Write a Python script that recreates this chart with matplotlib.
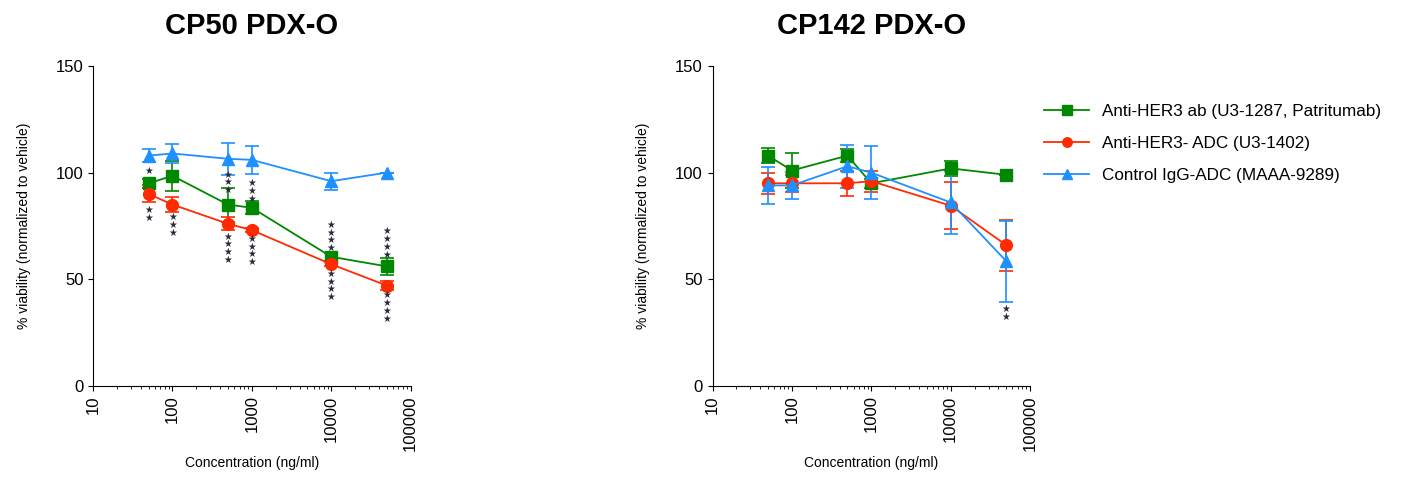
import matplotlib
matplotlib.use('Agg')
import matplotlib.pyplot as plt

plt.rcParams['font.family'] = ['Liberation Sans', 'DejaVu Sans']

conc = [50, 100, 500, 1000, 10000, 50000]

labels = ['Anti-HER3 ab (U3-1287, Patritumab)',
          'Anti-HER3- ADC (U3-1402)',
          'Control IgG-ADC (MAAA-9289)']
colors = ['#008800', '#FF2A00', '#1E90FF']
markers = ['s', 'o', '^']

# CP50 PDX-O
cp50_ab = [95, 98.5, 85, 83.5, 60.5, 56]
cp50_ab_err = [2, 7, 8, 3, 2, 4]
cp50_adc = [90, 85, 76, 73, 57, 47]
cp50_adc_err = [4, 3.5, 3, 1, 1, 2]
cp50_igg = [108, 109, 106.5, 106, 96, 100]
cp50_igg_err = [3, 4.5, 7.5, 6.5, 4, 0]

# CP142 PDX-O
cp142_ab = [108, 101, 108, 95, 102, 99]
cp142_ab_err = [3.5, 8, 3, 2, 3.5, 0]
cp142_adc = [95, 95, 95, 96, 84.5, 66]
cp142_adc_err = [5, 4, 6, 5, 11, 12]
cp142_igg = [94, 94, 103, 100, 86, 58.5]
cp142_igg_err = [8.5, 6.5, 10, 12.5, 15, 19]

# significance marks: (concentration, y position, number of stars)
cp50_stars = [(50, 101, 1), (50, 80.5, 2), (100, 75.5, 3),
              (500, 95.5, 3), (500, 64.5, 4),
              (1000, 91.5, 3), (1000, 63.5, 4),
              (10000, 70, 4), (10000, 47, 4),
              (50000, 67, 4), (50000, 37, 4)]
cp142_stars = [(50000, 34, 2)]


def draw_panel(ax, title, series, stars):
    for i, (vals, errs) in enumerate(series):
        ax.errorbar(conc, vals, yerr=errs, color=colors[i], marker=markers[i],
                    markersize=8.5, linewidth=1.3, elinewidth=1.2, capsize=5,
                    capthick=1.2, label=labels[i])
    for x, y, n in stars:
        ax.text(x, y, '\n'.join(['★'] * n), ha='center', va='center',
                fontsize=7, linespacing=0.72, color='#2a2a3a',
                family='DejaVu Sans', zorder=10)
    ax.set_xscale('log')
    ax.set_xlim(10, 100000)
    ax.set_ylim(0, 150)
    ax.set_yticks([0, 50, 100, 150])
    ax.set_xticks([10, 100, 1000, 10000, 100000])
    ax.set_xticklabels(['10', '100', '1000', '10000', '100000'], rotation=90)
    ax.spines['top'].set_visible(False)
    ax.spines['right'].set_visible(False)
    ax.tick_params(axis='both', labelsize=12, color='black')
    ax.tick_params(axis='x', which='minor', length=2.5)
    ax.set_ylabel('% viability (normalized to vehicle)', fontsize=10, labelpad=18)
    ax.set_xlabel('Concentration (ng/ml)', fontsize=10, labelpad=4)
    ax.set_title(title, fontsize=21, fontweight='bold', pad=23)


fig = plt.figure(figsize=(14.11, 4.9), dpi=100)
ax1 = fig.add_axes([0.066, 0.213, 0.225, 0.652])
ax2 = fig.add_axes([0.505, 0.213, 0.225, 0.652])

draw_panel(ax1, 'CP50 PDX-O',
           [(cp50_ab, cp50_ab_err), (cp50_adc, cp50_adc_err), (cp50_igg, cp50_igg_err)],
           cp50_stars)
draw_panel(ax2, 'CP142 PDX-O',
           [(cp142_ab, cp142_ab_err), (cp142_adc, cp142_adc_err), (cp142_igg, cp142_igg_err)],
           cp142_stars)

handles, labs = ax2.get_legend_handles_labels()
handles = [h[0] for h in handles]
fig.legend(handles, labs, loc='upper left', bbox_to_anchor=(1029 / 1411, 1 - 89 / 490),
           frameon=False, fontsize=12.3, handlelength=2.6, labelspacing=0.98,
           markerscale=0.8)

fig.savefig('out.png', dpi=100)
